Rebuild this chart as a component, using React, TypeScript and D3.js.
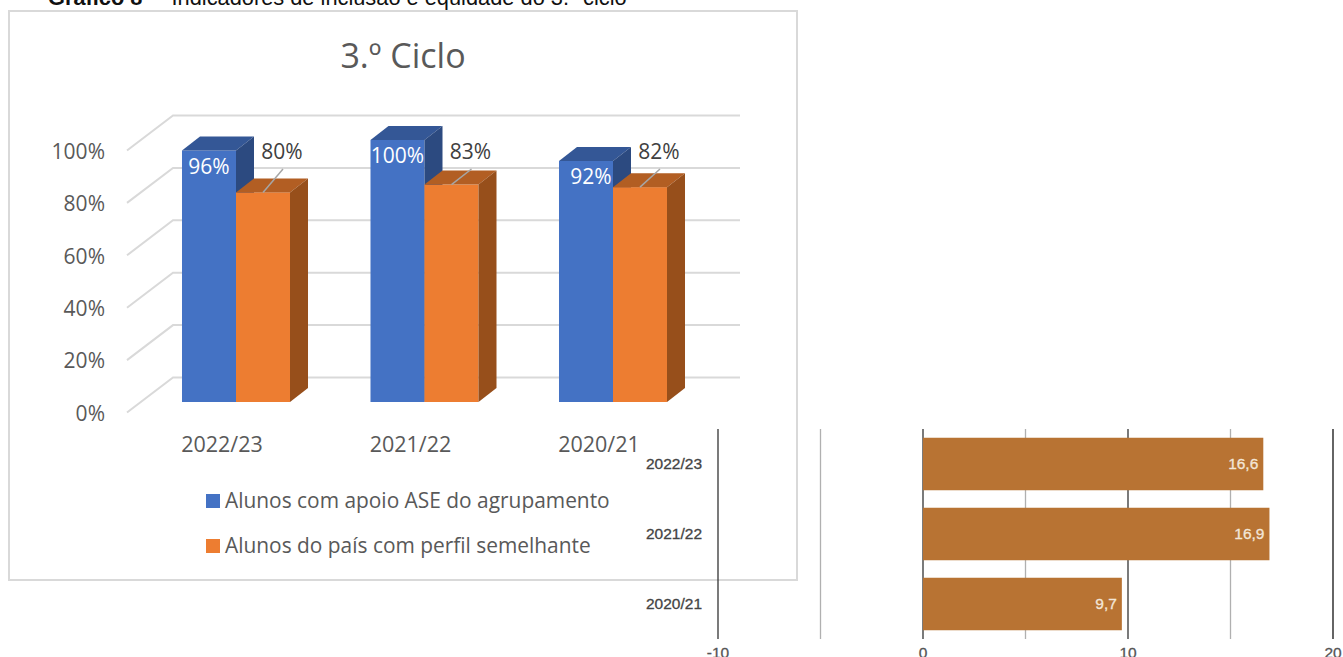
import React from 'react'
import * as d3 from 'd3'

const years = ['2022/23', '2021/22', '2020/21']
const seriesNames = ['Alunos com apoio ASE do agrupamento', 'Alunos do país com perfil semelhante']
const aseValues = [96, 100, 92]
const paisValues = [80, 83, 82]
const pctTicks = [0, 20, 40, 60, 80, 100]
const rightValues = [16.6, 16.9, 9.7]
const rightMajor = [-10, 0, 10, 20]
const rightMinor = [-5, 5, 15]

const FONT = "'Open Sans', 'Noto Sans', sans-serif"
const SANS = "'Liberation Sans', Arial, sans-serif"
const GREY = '#595959'

// 3d look of the left chart
const wallDx = 46
const wallDy = -35
const barDx = 18
const barDy = -14

const faces = [
  { front: '#4472C4', top: '#345796', side: '#2C4A80' },
  { front: '#ED7D31', top: '#B25E23', side: '#974F1B' },
]

function Bar3D({ x, y, w, h, c }: any) {
  const top = `M${x},${y}l${barDx},${barDy}h${w}l${-barDx},${-barDy}z`
  const side = `M${x + w},${y}l${barDx},${barDy}v${h}l${-barDx},${-barDy}z`
  return (
    <g>
      <rect x={x} y={y} width={w} height={h} fill={c.front} />
      <path d={top} fill={c.top} />
      <path d={side} fill={c.side} />
    </g>
  )
}

function LeftChart() {
  const y = d3.scaleLinear().domain([0, 100]).range([402, 140])
  const x0 = d3.scaleBand().domain(years).range([141.75, 707.25]).paddingInner(0.427).paddingOuter(0.2135)
  const x1 = d3.scaleBand().domain(['ase', 'pais']).range([0, x0.bandwidth()])
  const w = x1.bandwidth()
  const tickY = (v: number) => y(v) + 10.5 // the axis plane sits a bit lower than the bars

  return (
    <g fontFamily={FONT}>
      <rect x={9} y={11} width={788} height={569} fill="#fff" stroke="#D9D9D9" strokeWidth={2} />
      <text x={403} y={68} textAnchor="middle" fontSize={34} fill={GREY}>3.º Ciclo</text>

      {pctTicks.map(t => (
        <g key={t}>
          <path
            d={`M127,${tickY(t)}l${wallDx},${wallDy}H740`}
            fill="none"
            stroke="#D9D9D9"
            strokeWidth={2}
          />
          <text x={105} y={tickY(t) + 1} dy="0.35em" textAnchor="end" fontSize={21} fill={GREY}>{t}%</text>
        </g>
      ))}

      {years.map((yr, i) => {
        const gx = x0(yr) as number
        const bx = gx + (x1('ase') as number)
        const ox = gx + (x1('pais') as number)
        const ot = y(paisValues[i])
        return (
          <g key={yr}>
            <Bar3D x={bx} y={y(aseValues[i])} w={w} h={y(0) - y(aseValues[i])} c={faces[0]} />
            <Bar3D x={ox} y={ot} w={w} h={y(0) - ot} c={faces[1]} />
            <text x={bx + w / 2 + (i == 2 ? 5 : 0)} y={y(aseValues[i]) + 16} dy="0.35em" textAnchor="middle" fontSize={21} fill="#fff">
              {aseValues[i]}%
            </text>
            <line x1={ox + w / 2} y1={ot} x2={ox + w / 2 + 20} y2={169} stroke="#A6A6A6" strokeWidth={1.5} />
            <text x={ox + w / 2 + 19} y={152} dy="0.35em" textAnchor="middle" fontSize={21} fill="#404040">
              {paisValues[i]}%
            </text>
            <text x={gx + 40} y={444} dy="0.35em" textAnchor="middle" fontSize={21.5} fill={GREY}>{yr}</text>
          </g>
        )
      })}

      {seriesNames.map((name, i) => (
        <g key={name}>
          <rect x={206} y={494 + i * 45} width={14} height={14} fill={faces[i].front} />
          <text x={225} y={501 + i * 45} dy="0.35em" fontSize={20.9} fill={GREY}>{name}</text>
        </g>
      ))}
    </g>
  )
}

function RightChart() {
  const x = d3.scaleLinear().domain([-10, 20]).range([718, 1333])
  const y = d3.scaleBand().domain(years).range([429, 639]).paddingInner(0.25).paddingOuter(0.125)
  return (
    <g fontFamily={SANS} fontSize={15.5}>
      {rightMinor.map(t => (
        <line key={t} x1={x(t)} x2={x(t)} y1={429} y2={639} stroke="#B0B0B0" strokeWidth={1.3} />
      ))}
      {rightMajor.map(t => (
        <g key={t}>
          <line x1={x(t)} x2={x(t)} y1={429} y2={639} stroke={t == 20 ? '#111' : '#333'} strokeWidth={1.3} />
          <text x={x(t)} y={658} textAnchor="middle" fill="#555" stroke="#555" strokeWidth={0.3}>{t}</text>
        </g>
      ))}
      {years.map((yr, i) => {
        const by = y(yr) as number
        return (
          <g key={yr}>
            <rect x={x(0)} y={by} width={x(rightValues[i]) - x(0)} height={y.bandwidth()} fill="#B87333" />
            <text x={702} y={by + y.bandwidth() / 2} dy="0.35em" textAnchor="end" fill="#444" stroke="#444" strokeWidth={0.3}>{yr}</text>
            <text x={x(rightValues[i]) - 5} y={by + y.bandwidth() / 2} dy="0.35em" textAnchor="end" fill="#F3E6D8" stroke="#F3E6D8" strokeWidth={0.3}>
              {String(rightValues[i]).replace('.', ',')}
            </text>
          </g>
        )
      })}
    </g>
  )
}

export default function App() {
  return (
    <svg width={1343} height={657} style={{ position: 'absolute', left: 0, top: 0, background: '#fff' }}>
      <text y={5} fontFamily={SANS} fontSize={21.8} fill="#111">
        <tspan x={48} fontWeight="bold">Gráfico 8</tspan>
        <tspan x={155}>–</tspan>
        <tspan x={171.5}>Indicadores de inclusão e equidade do 3.º ciclo</tspan>
      </text>
      <LeftChart />
      <RightChart />
    </svg>
  )
}
